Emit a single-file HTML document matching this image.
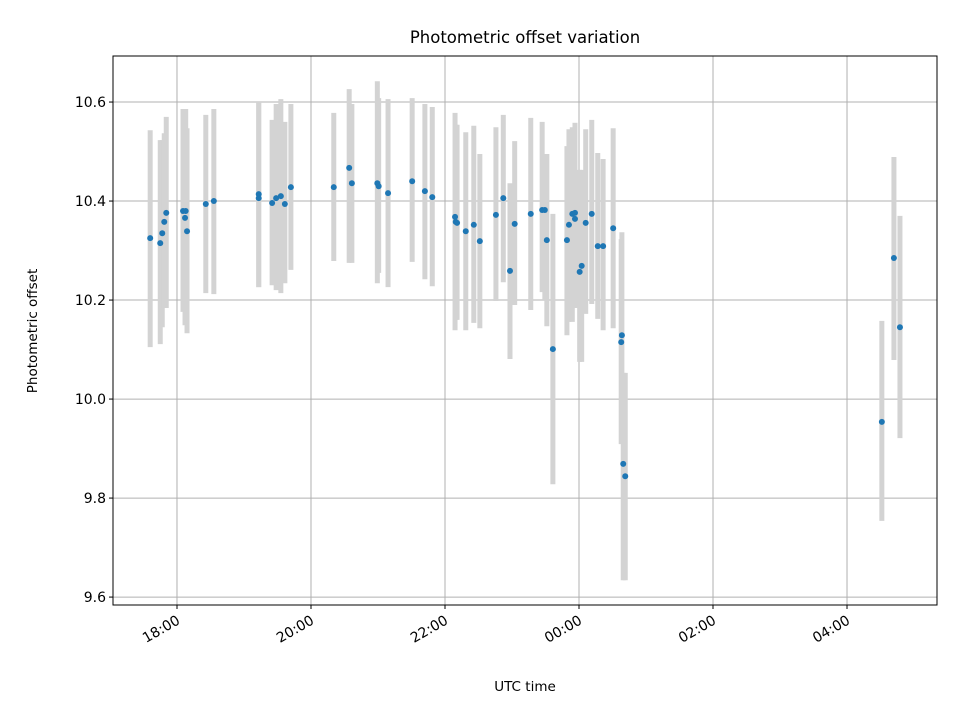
<!DOCTYPE html>
<html><head><meta charset="utf-8"><style>
body{margin:0;background:#fff}
svg text{font-family:"DejaVu Sans","Liberation Sans",sans-serif;fill:#000}
</style></head><body>
<svg id="chart" width="960" height="720" xmlns="http://www.w3.org/2000/svg">
<rect width="960" height="720" fill="#fff"/>
<g id="grid"></g>
<g id="errs"></g>
<g id="pts"></g>
<rect x="113" y="56" width="824" height="549" fill="none" stroke="#000" stroke-width="1"/>
<g id="axes"></g>
<text x="525" y="43" font-size="16.5" text-anchor="middle">Photometric offset variation</text>
<text x="525" y="691" font-size="13.5" text-anchor="middle">UTC time</text>
<text transform="translate(37,331) rotate(-90)" font-size="13.5" text-anchor="middle">Photometric offset</text>
</svg>
<script>
const times=[17.60,17.75,17.78,17.81,17.84,18.09,18.13,18.12,18.15,18.43,18.55,19.22,19.22,19.42,19.48,19.55,19.61,19.70,20.34,20.57,20.61,20.99,21.01,21.15,21.51,21.70,21.81,22.15,22.16,22.18,22.31,22.43,22.52,22.76,22.87,22.97,23.04,23.28,23.45,23.49,23.52,23.61,23.82,23.85,23.90,23.94,23.94,24.01,24.04,24.10,24.19,24.28,24.36,24.51,24.63,24.64,24.66,24.69,28.52,28.70,28.79];
const values=[10.325,10.315,10.335,10.358,10.376,10.380,10.380,10.366,10.339,10.394,10.400,10.414,10.406,10.396,10.406,10.410,10.394,10.428,10.428,10.467,10.436,10.436,10.430,10.416,10.440,10.420,10.408,10.368,10.358,10.356,10.339,10.352,10.319,10.372,10.406,10.259,10.354,10.374,10.382,10.382,10.321,10.101,10.321,10.352,10.374,10.376,10.364,10.257,10.269,10.356,10.374,10.309,10.309,10.345,10.115,10.129,9.869,9.844,9.954,10.285,10.145];
const upper=[10.543,10.523,10.523,10.537,10.570,10.586,10.586,10.547,10.547,10.574,10.586,10.600,10.600,10.564,10.596,10.606,10.560,10.596,10.578,10.626,10.596,10.642,10.608,10.606,10.608,10.596,10.590,10.578,10.554,10.554,10.539,10.552,10.495,10.549,10.574,10.436,10.521,10.568,10.560,10.495,10.495,10.374,10.511,10.545,10.549,10.558,10.558,10.463,10.463,10.545,10.564,10.497,10.485,10.547,10.323,10.337,10.053,10.053,10.158,10.489,10.370];
const lower=[10.105,10.111,10.145,10.184,10.184,10.176,10.174,10.149,10.133,10.214,10.212,10.226,10.226,10.230,10.220,10.214,10.234,10.261,10.279,10.275,10.275,10.234,10.255,10.226,10.277,10.242,10.228,10.139,10.160,10.160,10.139,10.154,10.143,10.198,10.236,10.081,10.190,10.180,10.216,10.200,10.147,9.828,10.129,10.156,10.156,10.184,10.184,10.075,10.075,10.172,10.192,10.162,10.139,10.143,9.909,9.937,9.634,9.634,9.754,10.079,9.921];
const yTicks=[9.6,9.8,10.0,10.2,10.4,10.6];
const yTickLabels=["9.6","9.8","10.0","10.2","10.4","10.6"];
const xTicks=[18,20,22,24,26,28];
const xTickLabels=["18:00","20:00","22:00","00:00","02:00","04:00"];
const X0=113,X1=937,Y0=56,Y1=605,xMin=17.045,xMax=29.343,yMin=9.584,yMax=10.693;
const xs=v=>X0+(v-xMin)/(xMax-xMin)*(X1-X0);
const ys=v=>Y1-(v-yMin)/(yMax-yMin)*(Y1-Y0);
const NS="http://www.w3.org/2000/svg";
function mk(t,a,p){const e=document.createElementNS(NS,t);for(const k in a)e.setAttribute(k,a[k]);p.appendChild(e);return e;}
const grid=document.getElementById('grid'),axes=document.getElementById('axes'),errs=document.getElementById('errs'),pts=document.getElementById('pts');
xTicks.forEach((t,i)=>{const x=xs(t);
 const g=mk('line',{x1:x,x2:x,y1:Y0,y2:Y1,stroke:'#b0b0b0','stroke-width':1},grid);
 
 const tk=mk('line',{x1:x,x2:x,y1:Y1,y2:Y1+4,stroke:'#000'},axes);
 
 const tx=mk('text',{transform:`translate(${x+4},${Y1+18}) rotate(-30)`,'font-size':14,'text-anchor':'end'},axes);
 tx.textContent=xTickLabels[i];
 });
yTicks.forEach((t,i)=>{const y=ys(t);
 const g=mk('line',{x1:X0,x2:X1,y1:y,y2:y,stroke:'#b0b0b0','stroke-width':1},grid);
 
 const tk=mk('line',{x1:X0-4,x2:X0,y1:y,y2:y,stroke:'#000'},axes);
 
 const tx=mk('text',{x:X0-7,y:y+5,'font-size':14,'text-anchor':'end'},axes);
 tx.textContent=yTickLabels[i];
 });
times.forEach((t,i)=>{const x=xs(t);
 const e=mk('line',{x1:x,x2:x,y1:ys(upper[i]),y2:ys(lower[i]),stroke:'#d3d3d3','stroke-width':5},errs);
 });
times.forEach((t,i)=>{
 const c=mk('circle',{cx:xs(t),cy:ys(values[i]),r:3,fill:'#1f77b4'},pts);
 });
</script>
</body></html>
